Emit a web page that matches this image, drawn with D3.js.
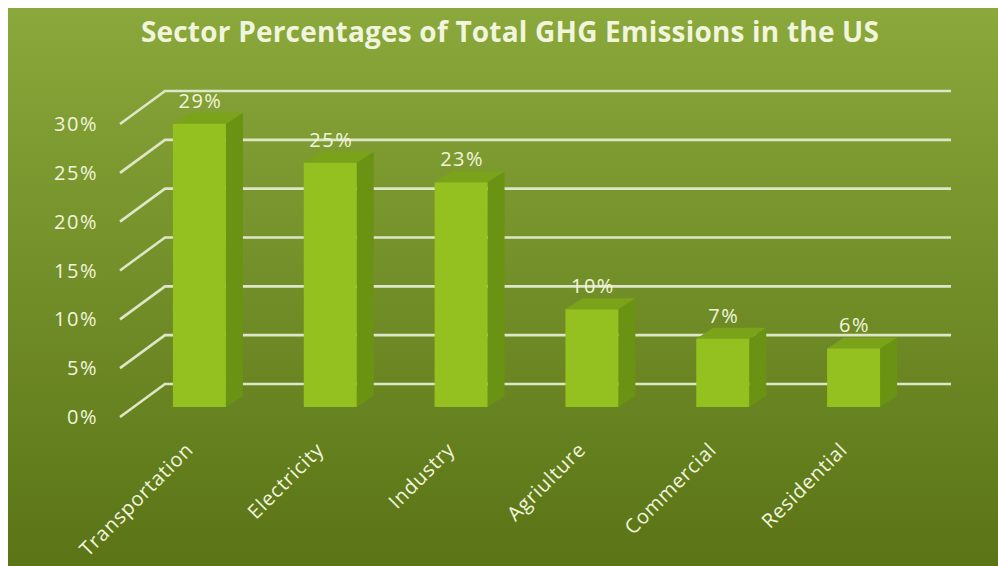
<!DOCTYPE html>
<html>
<head>
<meta charset="utf-8">
<script src="https://cdn.jsdelivr.net/npm/d3@7"></script>
<style>
  html, body { margin: 0; padding: 0; background: #ffffff; }
  svg { display: block; }
  text { font-family: "Open Sans", "DejaVu Sans", sans-serif; }
</style>
</head>
<body>
<svg id="chart" width="998" height="566"></svg>
<script>
// Sector shares of total US greenhouse-gas emissions (percent)
const categories = ["Transportation", "Electricity", "Industry", "Agriulture", "Commercial", "Residential"];
const values = [29, 25, 23, 10, 7, 6];
const tickValues = [0, 5, 10, 15, 20, 25, 30];
const titleText = "Sector Percentages of Total GHG Emissions in the US";

const svg = d3.select("#chart");
const W = 998, H = 566;

// Panel gradient
const defs = svg.append("defs");
const grad = defs.append("linearGradient")
  .attr("id", "bg").attr("x1", 0).attr("y1", 0).attr("x2", 0).attr("y2", 1);
grad.append("stop").attr("offset", "0%").attr("stop-color", "#8aa83b");
grad.append("stop").attr("offset", "100%").attr("stop-color", "#5a7416");

svg.append("rect").attr("x", 0).attr("y", 0).attr("width", W).attr("height", H).attr("fill", "#ffffff");
svg.append("rect").attr("x", 8).attr("y", 8).attr("width", W - 8).attr("height", H - 8).attr("fill", "url(#bg)");

// Oblique 3D projection: value height scale plus per-plane baselines
const yScale = d3.scaleLinear().domain([0, 30]).range([0, -293]);
const front = { x: 120, y: 417 };     // front edge of the floor
const back = { x: 165, y: 384 };      // back wall base
const backRight = 951;
const barBase = 407;                  // base line of the bar front faces
const depth = { dx: 17, dy: -11 };    // bar depth offset

const xScale = d3.scaleBand()
  .domain(categories)
  .range([134, 919])
  .paddingInner(0.595)
  .paddingOuter(0.2975);

const gridColor = "#dfe6c8";
const textColor = "#f1f5dc";

// Gridlines: diagonal on the side wall, then horizontal on the back wall
const grid = svg.append("g");
grid.selectAll("path").data(tickValues).join("path")
  .attr("d", v => {
    const yf = front.y + yScale(v), yb = back.y + yScale(v);
    return `M${front.x},${yf}L${back.x},${yb}L${backRight},${yb}`;
  })
  .attr("fill", "none")
  .attr("stroke", gridColor)
  .attr("stroke-width", 2.6);

// Y axis labels
svg.append("g").selectAll("text").data(tickValues).join("text")
  .attr("x", 98)
  .attr("y", v => front.y + yScale(v) + 7)
  .attr("text-anchor", "end")
  .attr("font-size", 20)
  .attr("letter-spacing", 1.5)
  .attr("fill", textColor)
  .text(v => v + "%");

// Bars
const bars = svg.append("g").selectAll("g").data(categories).join("g");
bars.each(function (c, i) {
  const g = d3.select(this);
  const x0 = xScale(c), x1 = x0 + xScale.bandwidth();
  const yTop = barBase + yScale(values[i]);
  const { dx, dy } = depth;
  // side face
  g.append("path")
    .attr("d", `M${x1},${yTop}L${x1 + dx},${yTop + dy}L${x1 + dx},${barBase + dy}L${x1},${barBase}Z`)
    .attr("fill", "#6a9313");
  // top face
  g.append("path")
    .attr("d", `M${x0},${yTop}L${x0 + dx},${yTop + dy}L${x1 + dx},${yTop + dy}L${x1},${yTop}Z`)
    .attr("fill", "#7aa31a");
  // front face
  g.append("rect")
    .attr("x", x0).attr("y", yTop)
    .attr("width", xScale.bandwidth())
    .attr("height", barBase - yTop)
    .attr("fill", "#94c11f");
});

// Value labels
svg.append("g").selectAll("text").data(categories).join("text")
  .attr("x", c => xScale(c) + xScale.bandwidth() / 2 + 1)
  .attr("y", (c, i) => barBase + yScale(values[i]) - 16)
  .attr("text-anchor", "middle")
  .attr("font-size", 20)
  .attr("letter-spacing", 1.5)
  .attr("fill", textColor)
  .text((c, i) => values[i] + "%");

// Category labels, rotated
svg.append("g").selectAll("text").data(categories).join("text")
  .attr("transform", c => `translate(${xScale(c) + xScale.bandwidth() / 2 - 5},${451}) rotate(-45)`)
  .attr("text-anchor", "end")
  .attr("font-size", 20)
  .attr("letter-spacing", 0.8)
  .attr("fill", textColor)
  .text(c => c);

// Title
svg.append("text")
  .attr("x", 510)
  .attr("y", 42)
  .attr("text-anchor", "middle")
  .attr("font-size", 28)
  .attr("font-weight", "bold")
  .attr("letter-spacing", 0.2)
  .attr("fill", textColor)
  .text(titleText);
</script>
</body>
</html>
